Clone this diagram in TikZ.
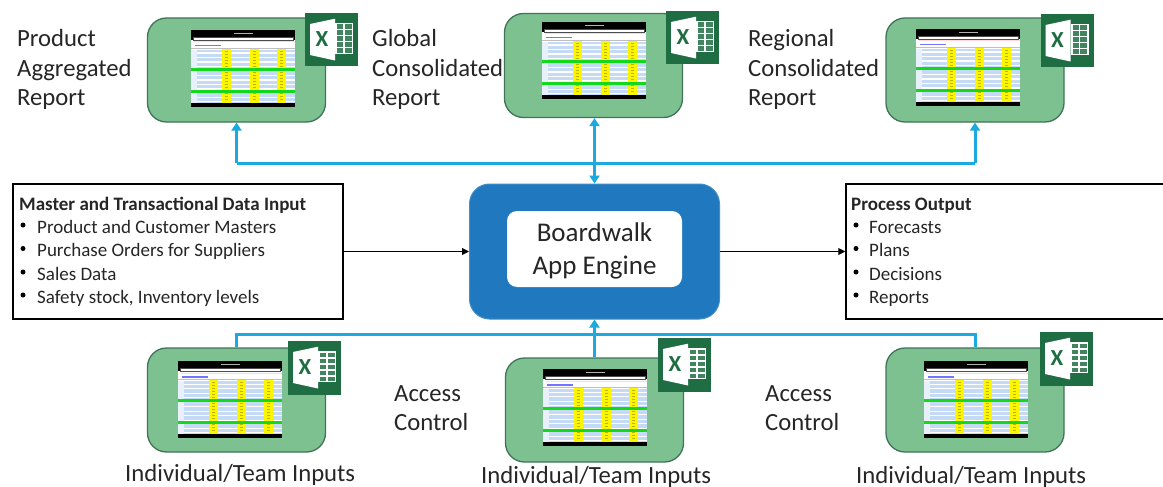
\documentclass[tikz,border=0pt]{standalone}
\usepackage{fontspec}
\setmainfont{Carlito}
\usetikzlibrary{arrows.meta}
\definecolor{boxgreen}{HTML}{7DC190}
\definecolor{boxedge}{HTML}{41735A}
\definecolor{bus}{HTML}{1CA9DF}
\definecolor{enginefill}{HTML}{2079BE}
\definecolor{xlgreen}{HTML}{1F6E43}
\definecolor{txt}{HTML}{262626}
\definecolor{rowblue}{HTML}{C4DAF5}
\definecolor{shotyellow}{HTML}{FBF500}
\definecolor{shotgreen}{HTML}{12D81E}
\tikzset{
  x=1pt,y=-1pt,
  reportbox/.style={draw=boxedge,line width=1.3pt,fill=boxgreen,rounded corners=19pt,minimum width=178pt,minimum height=104pt,inner sep=0pt},
  inputbox/.style={draw=black,line width=1.5pt,fill=white,inner sep=0pt},
  label/.style={anchor=base west,inner sep=0pt,font=\fontsize{24.7}{24.7}\selectfont,text=txt},
  heading/.style={anchor=base west,inner sep=0pt,font=\fontsize{19}{19}\selectfont\bfseries,text=txt},
  item/.style={anchor=base west,inner sep=0pt,font=\fontsize{19}{19}\selectfont,text=txt},
  dot/.style={circle,fill=black,inner sep=0pt,minimum size=5pt},
  busline/.style={draw=bus,line width=3pt},
  bustip/.style={busline,{Triangle[length=8pt,width=10pt]}-{Triangle[length=8pt,width=10pt]}},
  busup/.style={busline,-{Triangle[length=8pt,width=10pt]}},
  dataflow/.style={draw=black,line width=1pt,-{Triangle[length=7pt,width=7pt]}},
}
\newcommand{\shotimg}[2]{%
\begin{scope}[shift={(#1,#2)}]
  \fill[white] (0,0) rectangle (104,77);
  \fill[rowblue] (6,20) rectangle (104,73);
  \foreach \r in {22.5,27,31.5,36,45,49.5,54,58.5,67,71}{\fill[white] (6,\r) rectangle (104,\r+1.2);}
  \fill[rowblue!40] (0,20) rectangle (6,73);
  \fill[pink!60] (3,11.5) rectangle (104,12.5);
  \fill[blue!55!white] (4,15) rectangle (30,16.5);
  \fill[black!25] (0,18) rectangle (104,19);
  \foreach \c in {31,58.5,86}{\fill[shotyellow] (\c,19) rectangle (\c+9,73);
    \foreach \r in {21,24,...,71}{\fill[olive!55!shotyellow] (\c+3,\r) rectangle (\c+6,\r+.8);}}
  \fill[shotgreen] (0,38) rectangle (104,41);
  \fill[shotgreen] (0,60) rectangle (104,63);
  \fill[black] (0,0) rectangle (104,7.5);
  \fill[black] (0,7.5) rectangle (2,10);
  \fill[black] (102,7.5) rectangle (104,10);
  \draw[black!70,line width=.5pt] (2,7.5) rectangle (102,10);
  \fill[white!70!black] (43,3) rectangle (62,4.2);
  \fill[black] (0,73) rectangle (104,77);
\end{scope}}
\newcommand{\xlicon}[2]{%
\begin{scope}[shift={(#1,#2)}]
  \fill[xlgreen] (0,0) rectangle (53,53.5);
  \fill[white] (30,10) rectangle (48,41);
  \foreach \r in {11.5,17.5,23.5,29.5,35.5}{%
    \fill[xlgreen!85] (32,\r) rectangle (38,\r+4.4);
    \fill[xlgreen!85] (39.5,\r) rectangle (46.5,\r+4.4);}
  \fill[white] (5,11) -- (30,5.7) -- (30,47.5) -- (5,42) -- cycle;
\end{scope}}
\begin{document}
\begin{tikzpicture}
\useasboundingbox (0,0) rectangle (1163,487);
\fill[white] (0,0) rectangle (1163,487);

% report boxes
\node[reportbox] (top1) at (236.5,70) {};
\node[reportbox] (top2) at (593.5,65.5) {};
\node[reportbox] (top3) at (975,70) {};
\node[reportbox] (bot1) at (236.5,400) {};
\node[reportbox] (bot2) at (594.5,410) {};
\node[reportbox] (bot3) at (975,400) {};

\shotimg{191}{30}\shotimg{542}{22}\shotimg{916}{29}
\shotimg{178}{361}\shotimg{543}{369}\shotimg{924}{361}

\xlicon{305}{13}\xlicon{666}{11}\xlicon{1040.5}{14}
\xlicon{288}{341}\xlicon{658}{338}\xlicon{1040}{332}
\foreach \n/\xx/\yy in {xa/322/39.5,xb/683/37.5,xc/1057.5/40.5,xd/305/367.5,xe/675/364.5,xf/1057/358.5}
  \node[inner sep=0pt,text=xlgreen,font=\fontsize{23}{23}\selectfont\bfseries] (\n) at (\xx,\yy) {X};

% engine
\node[draw=enginefill!85!white,line width=1pt,fill=enginefill,rounded corners=20pt,minimum width=250pt,minimum height=135pt,inner sep=0pt] (engine) at (594.5,251.5) {};
\node[fill=white,rounded corners=10pt,minimum width=175pt,minimum height=76pt,inner sep=0pt] (engineinner) at (594.5,249) {};
\node[anchor=base,inner sep=0pt,font=\fontsize{27}{27}\selectfont,text=txt] (eng1) at (594.5,241) {Boardwalk};
\node[anchor=base,inner sep=0pt,font=\fontsize{27}{27}\selectfont,text=txt] (eng2) at (594.5,274) {App Engine};

% input / output boxes
\node[inputbox,minimum width=330pt,minimum height=135pt] (input) at (178,251.5) {};
\node[inputbox,minimum width=318pt,minimum height=135pt] (output) at (1005,251.5) {};

\node[heading] (inh) at (19,210) {Master and Transactional Data Input};
\node[item] (in1) at (37,233) {Product and Customer Masters};
\node[item] (in2) at (37,256.5) {Purchase Orders for Suppliers};
\node[item] (in3) at (37,280) {Sales Data};
\node[item] (in4) at (37,303) {Safety stock, Inventory levels};
\foreach \n/\yy in {ba/225,bb/248.5,bc/272,bd/295}{\node[dot] (\n) at (23,\yy) {};}

\node[heading] (outh) at (851,210) {Process Output};
\node[item] (out1) at (869,233) {Forecasts};
\node[item] (out2) at (869,256.5) {Plans};
\node[item] (out3) at (869,280) {Decisions};
\node[item] (out4) at (869,303) {Reports};
\foreach \n/\yy in {bw/225,bx/248.5,by/272,bz/295}{\node[dot] (\n) at (856,\yy) {};}

% labels
\node[label] (l1a) at (17,47) {Product};
\node[label] (l1b) at (17,77) {Aggregated};
\node[label] (l1c) at (17,106) {Report};
\node[label] (l2a) at (372,47) {Global};
\node[label] (l2b) at (372,77) {Consolidated};
\node[label] (l2c) at (372,106) {Report};
\node[label] (l3a) at (748,47) {Regional};
\node[label] (l3b) at (748,77) {Consolidated};
\node[label] (l3c) at (748,106) {Report};
\node[label] (a1a) at (394,401) {Access};
\node[label] (a1b) at (394,430) {Control};
\node[label] (a2a) at (765,401) {Access};
\node[label] (a2b) at (765,430) {Control};
\node[label] (t1) at (125,481) {Individual/Team Inputs};
\node[label] (t2) at (481,483) {Individual/Team Inputs};
\node[label] (t3) at (856,483) {Individual/Team Inputs};

% connectors
\coordinate (topL) at (236.5,163);
\coordinate (topR) at (975,163);
\coordinate (botL) at (236.5,334);
\coordinate (botR) at (975,334);
\draw[busline] (topL) -- (topR);
\draw[busup] (topL) -- (top1.south);
\draw[busup] (topR) -- (top3.south);
\draw[bustip] (engine.north) -- (engine.north |- top2.south);
\draw[busline] (bot1.north) -- (botL) -- (botR) -- (bot3.north);
\draw[busup] (bot2.north) -- (engine.south);
\draw[dataflow] (input.east) -- (engine.west);
\draw[dataflow] (engine.east) -- (output.west);
\end{tikzpicture}
\end{document}
